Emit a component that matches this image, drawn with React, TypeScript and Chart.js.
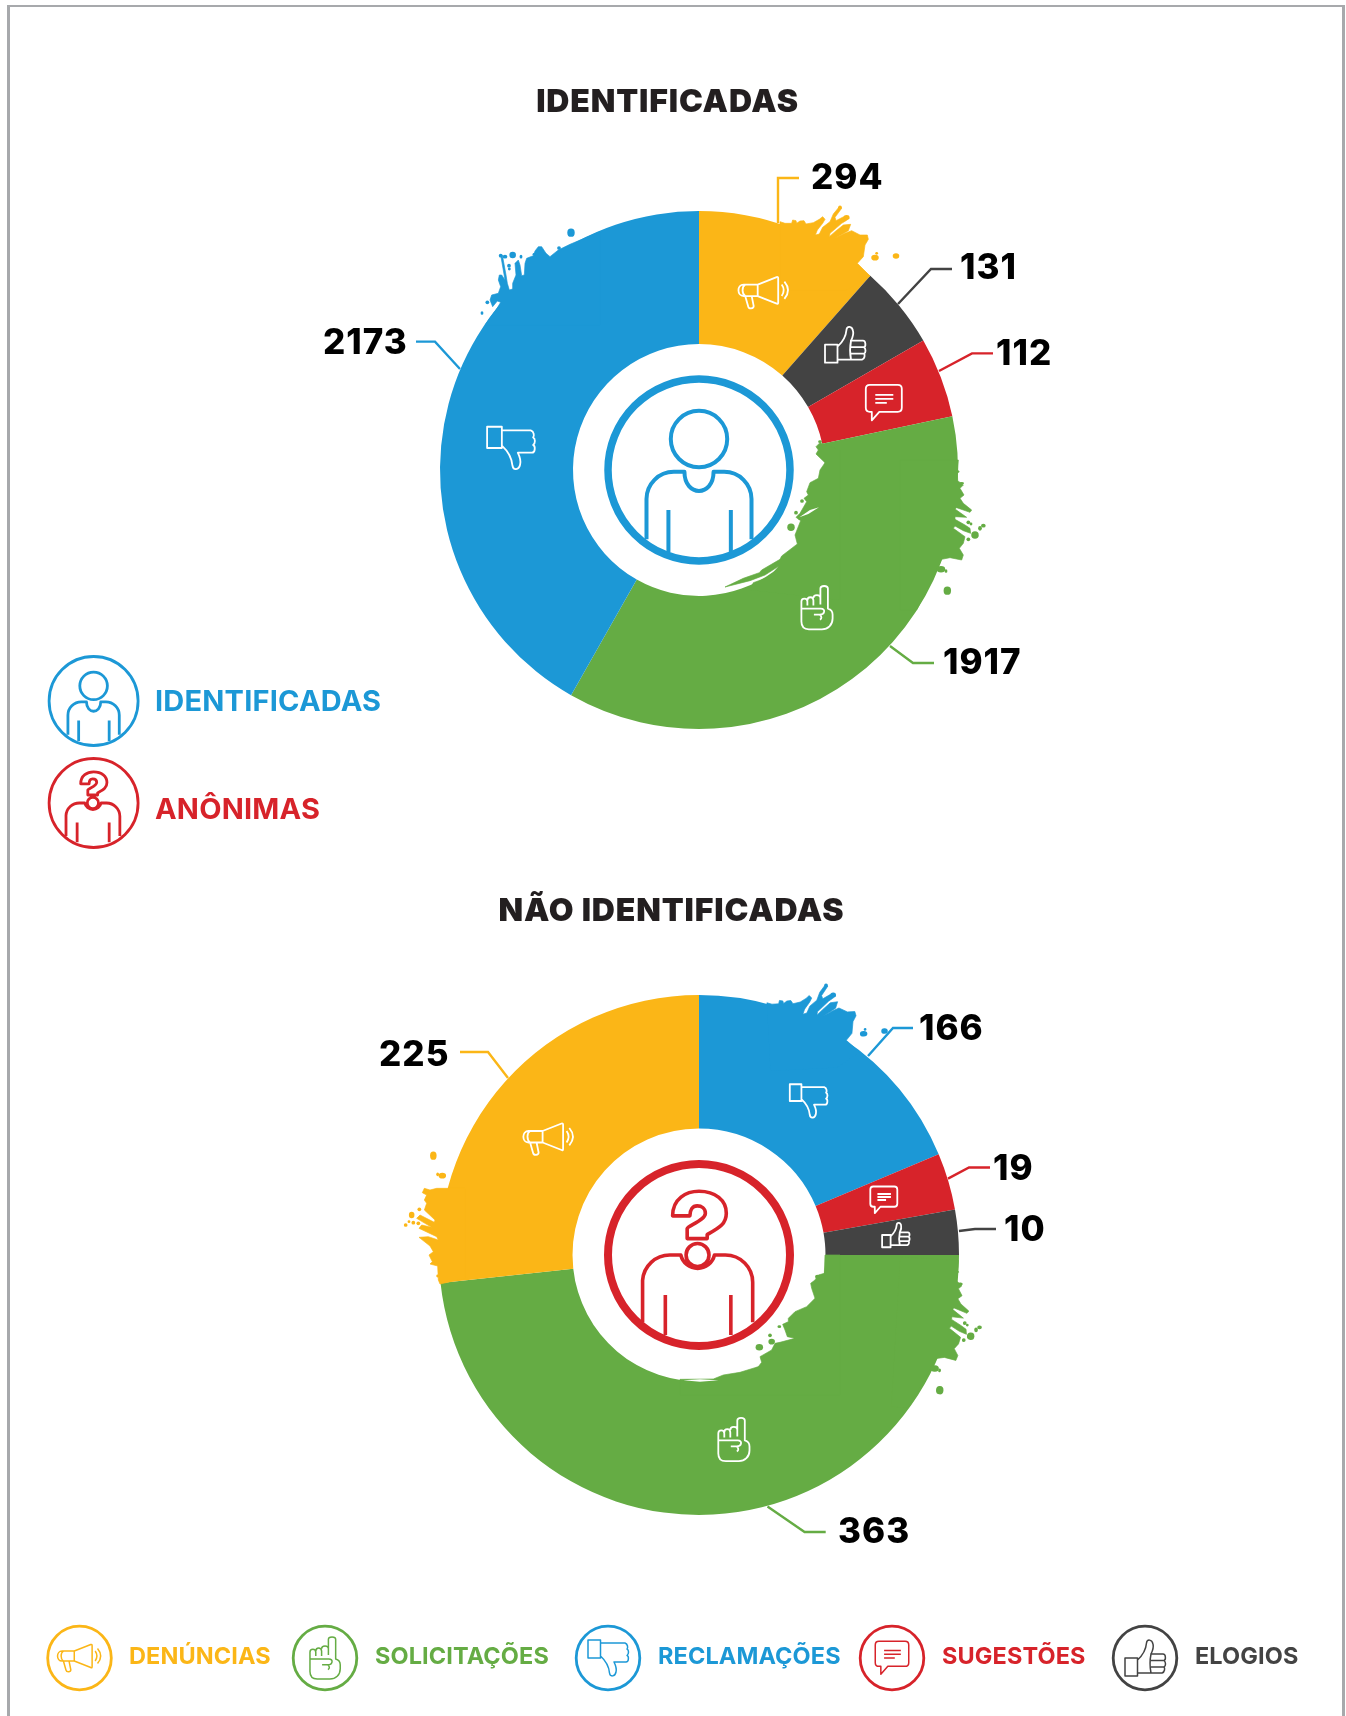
import React, { useEffect, useRef } from "react";
import { Chart, registerables } from "chart.js";

Chart.register(...registerables);

const YELLOW = "#FBB617";
const GREEN = "#65AC44";
const BLUE = "#1C98D6";
const RED = "#D7232A";
const DARK = "#434343";

// ---------- data ----------
const identifiedCategories = ["DENÚNCIAS", "ELOGIOS", "SUGESTÕES", "SOLICITAÇÕES", "RECLAMAÇÕES"];
const identifiedLabels = [294, 131, 112, 1917, 2173];
// The artwork's slices are not proportional to their printed numbers: these are the slice sizes (degrees).
const identifiedSliceDegrees = [41.4, 18.6, 18.0, 131.6, 150.4];
const identifiedColors = [YELLOW, DARK, RED, GREEN, BLUE];

const anonymousCategories = ["RECLAMAÇÕES", "SUGESTÕES", "ELOGIOS", "SOLICITAÇÕES", "DENÚNCIAS"];
const anonymousLabels = [166, 19, 10, 363, 225];
const anonymousSliceDegrees = [67.2, 12.7, 10.1, 173.8, 96.2];
const anonymousColors = [BLUE, RED, DARK, GREEN, YELLOW];

// ---------- icons (paths around 0,0) ----------
const MEGAPHONE =
  "M-6 -8 L13 -15.5 Q14.5 -16 14.5 -14 V10 Q14.5 12 13 11 L-6 3.5 Z M-6 -8 H-20 C-27 -8 -27 3.5 -20 3.5 H-6 M-18.5 -8 C-22 -6 -22 1 -18.5 3.5 M-18.5 3.5 L-15.5 14 C-15 16.5 -10 16.5 -10 13.5 L-12 3.5 M18 -8 Q22 -2.4 18 3.5 M20.7 -11 Q28 -2.4 20.7 6.3";
const THUMB_UP =
  "M-20 0 H-7.5 V18 H-20 Z M-7.5 2 C-2 -3 1 -9 1.5 -15 C2 -19 7 -19 8 -14 C9 -10 7 -6 6 -4 H18 C21 -4 21 2 19 2.5 C21 4 21 8 19 9 C20 10 20 14 17 15 H-7.5 M6 2.5 H19 M6 9 H19 M6 -4 C5 1 5 10 6 15";
const THUMB_DOWN =
  "M-20 0 H-7.5 V-18 H-20 Z M-7.5 -2 C-2 3 1 9 1.5 15 C2 19 7 19 8 14 C9 10 7 6 6 4 H18 C21 4 21 -2 19 -2.5 C21 -4 21 -8 19 -9 C20 -10 20 -14 17 -15 H-7.5";
const BUBBLE =
  "M-14 -18 H14 Q18 -18 18 -14 V5 Q18 9 14 9 H-4.5 L-12 17.5 V9 H-14 Q-18 9 -18 5 V-14 Q-18 -18 -14 -18 Z M-8.5 -8 H9.5 M-8.5 -4 H9.5 M-8.5 0 H3";
const HAND =
  "M3.5 -3 V-19 C3.5 -22.5 11 -22.5 11 -19 V1 C14.5 2 15.7 4 15.7 7 V11 C15.7 17.5 11 21.7 5 21.7 H-8 C-13 21.7 -15.5 18.5 -15.5 14 V-6 C-15.5 -10 -9.5 -10 -9.5 -6 V-2 M-9.5 -7 C-9.5 -11.5 -3.5 -11.5 -3.5 -7 V-2 M-3.5 -9.5 C-3.5 -13.5 3.5 -13.5 3.5 -9.5 M-15.5 1 H4 C9 1 8 7 3 7 H-3 M3 7 C5 9 5 11 3 12";
const PERSON =
  "M-57.7 76 V32 A30 30 0 0 1 -27.7 2 H-16 C-16 30 16 30 16 2 H27.7 A30 30 0 0 1 57.7 32 V76 M-33.6 44 V90 M35 44 V90 M31 -34 A31 31 0 1 1 -31 -34 A31 31 0 1 1 31 -34 Z";
const QUESTION_PERSON =
  "M-62 74 V28 A30 30 0 0 1 -32 0 H-20 A19 19 0 0 0 17 0 H29 A30 30 0 0 1 59 30 V74 M-37 44 V88 M35 44 V88 M11 0 A12.6 12.6 0 1 1 -14.2 0 A12.6 12.6 0 1 1 11 0 Z M-29 -43 C-29 -62 -14 -70 0 -70 C18 -70 30 -60 30 -46 C30 -34 22 -30 9 -22.5 V-18 H-13 V-29 C-13 -32 7 -38 7 -46 C7 -51 3 -54 -2 -54 C-7 -54 -10 -50 -10 -43 Z";

// ---------- decoration: paint splashes, written in 3x-zoom units from a local origin ----------
type Splash = { ox: number; oy: number; rot?: number; color: string; pts: number[]; drops: number[][]; cuts?: number[][] };

const YELLOW_SPLASH_PTS = [0,95,15,100,35,100,38,90,48,92,50,100,60,93,72,92,78,102,100,98,118,88,128,80,135,88,128,100,112,120,106,135,118,132,128,112,150,95,160,72,178,50,185,55,165,82,168,92,195,78,208,85,198,92,185,100,150,130,148,140,165,125,190,105,212,103,205,122,165,145,195,130,215,122,240,135,262,135,265,148,255,165,250,200,232,220,270,258,200,300,0,300];
const YELLOW_SPLASH_DROPS = [[348,198,7,6],[285,203,8,6],[290,190,3,3],[180,52,4,4],[200,82,6,5]];
const GREEN_RIGHT_PTS = [175,0,173,30,178,35,172,40,173,62,190,75,180,85,192,105,180,115,190,130,215,150,210,157,170,143,165,147,200,172,165,170,165,178,195,195,210,205,212,220,190,212,165,198,160,205,195,230,190,250,178,265,190,285,185,300,150,293,125,298,50,450,0,450,0,0];
const GREEN_RIGHT_DROPS = [[225,225,8,8],[240,205,4,5],[205,238,4,4],[250,197,5,4],[205,187,4,4],[213,192,3,3],[123,328,9,7],[138,333,3,4],[142,392,8,9],[185,70,5,3]];

const identifiedSplashes: Splash[] = [
  { ox: 81, oy: -280, color: YELLOW, pts: YELLOW_SPLASH_PTS, drops: YELLOW_SPLASH_DROPS },
  {
    ox: -229, oy: -245, color: BLUE,
    pts: [390,20,300,58,265,75,240,95,228,85,215,65,205,65,195,78,190,92,170,100,165,115,163,150,155,152,150,120,145,105,135,115,138,150,128,175,128,192,118,195,112,175,108,150,97,90,92,90,105,165,95,150,88,150,85,165,92,185,85,205,65,210,60,225,68,245,82,228,92,232,80,252,45,300,390,300],
    drops: [[303,23,8,9],[267,69,4,4],[128,90,7,7],[105,95,5,4],[153,95,3,4],[117,122,4,4],[118,132,3,3],[52,232,4,4],[36,264,3,4],[92,92,4,4],[192,88,3,3]],
  },
  { ox: 201, oy: -10, color: GREEN, pts: GREEN_RIGHT_PTS, drops: GREEN_RIGHT_DROPS },
  {
    ox: 11, oy: -40, color: GREEN,
    pts: [330,38,318,50,325,60,318,72,345,98,330,120,325,145,300,158,290,185,295,195,282,205,290,215,270,250,258,262,272,272,255,315,262,342,215,378,210,388,155,420,148,428,100,445,45,471,120,452,165,435,207,408,180,440,130,458,120,480,390,510,390,60],
    drops: [[243,292,8,8],[258,248,4,4],[276,213,4,4],[330,35,4,3],[272,263,6,5]],
    cuts: [[327,232,300,240,268,262,295,252]],
  },
];

const anonymousSplashes: Splash[] = [
  { ox: 81, oy: -280, rot: -3, color: BLUE, pts: YELLOW_SPLASH_PTS, drops: YELLOW_SPLASH_DROPS },
  {
    ox: -304, oy: -115, color: YELLOW,
    pts: [160,145,125,145,105,150,88,145,82,158,95,165,88,180,95,190,88,210,120,240,118,247,75,225,65,235,110,262,80,255,72,265,125,290,130,300,100,290,72,292,105,318,115,335,102,345,112,365,105,372,128,378,130,420,135,432,210,415,210,145],
    drops: [[115,47,7,9],[142,107,8,6],[128,103,3,4],[50,225,6,7],[73,208,4,4],[55,248,4,4],[42,245,3,3],[32,255,4,4],[70,250,4,4],[128,408,3,3]],
  },
  { ox: 201, oy: -10, rot: 3.4, color: GREEN, pts: GREEN_RIGHT_PTS, drops: GREEN_RIGHT_DROPS },
  {
    ox: -19, oy: 0, color: GREEN,
    pts: [435,0,433,55,415,60,405,75,392,85,395,100,405,130,380,155,345,170,325,190,325,200,308,208,315,225,322,245,345,250,300,262,285,265,275,285,240,305,245,322,235,335,180,352,130,360,100,372,0,373,0,420,480,420,480,0],
    drops: [[238,277,8,7],[275,260,7,6],[270,241,4,4],[298,215,4,3],[412,65,5,4]],
    cuts: [[10,376,60,373,115,376,60,380]],
  },
];

// ---------- annotation layout, offsets from each doughnut's centre ----------
type Leader = { pts: number[]; color: string; textX: number; textY: number };
const identifiedLeaders: Leader[] = [
  { pts: [79,-247,79,-292,100,-292], color: YELLOW, textX: 112, textY: -292 },
  { pts: [199,-166,232,-201,253,-201], color: DARK, textX: 261, textY: -202 },
  { pts: [240,-99,273,-116.6,294,-116.6], color: RED, textX: 297, textY: -116 },
  { pts: [191,176,214,193,235,193], color: GREEN, textX: 244, textY: 193 },
  { pts: [-239,-101,-264,-128.4,-283,-128.4], color: BLUE, textX: -376, textY: -127 },
];
const anonymousLeaders: Leader[] = [
  { pts: [169,-199,194,-227,214,-227], color: BLUE, textX: 220, textY: -225.5 },
  { pts: [249,-76.4,270,-87.5,291,-87.5], color: RED, textX: 294, textY: -85.5 },
  { pts: [260,-24,276,-26,297,-26], color: DARK, textX: 305, textY: -25 },
  { pts: [68.5,251.6,105.6,277,126.7,277], color: GREEN, textX: 139, textY: 277 },
  { pts: [-191,-177,-211,-203,-239,-203], color: YELLOW, textX: -320, textY: -200 },
];

type Icon = { d: string; x: number; y: number; s: number };
const identifiedIcons: Icon[] = [
  { d: MEGAPHONE, x: 64.7, y: -177.4, s: 1 },
  { d: THUMB_UP, x: 146, y: -125.3, s: 1 },
  { d: BUBBLE, x: 184.8, y: -67.2, s: 1 },
  { d: HAND, x: 117.9, y: 137.6, s: 1 },
  { d: THUMB_DOWN, x: -188.3, y: -22, s: 1.18 },
];
const anonymousIcons: Icon[] = [
  { d: THUMB_DOWN, x: 109.4, y: -154, s: 0.93 },
  { d: BUBBLE, x: 184.8, y: -55, s: 0.75 },
  { d: THUMB_UP, x: 196.7, y: -20, s: 0.68 },
  { d: HAND, x: 34.8, y: 184.4, s: 1 },
  { d: MEGAPHONE, x: -150.4, y: -116, s: 1 },
];

function polygon(ctx: CanvasRenderingContext2D, pts: number[]) {
  ctx.beginPath();
  for (let i = 0; i < pts.length; i += 2) {
    if (i === 0) ctx.moveTo(pts[i], pts[i + 1]);
    else ctx.lineTo(pts[i], pts[i + 1]);
  }
  ctx.closePath();
  ctx.fill();
}

function strokeIcon(ctx: CanvasRenderingContext2D, d: string, x: number, y: number, s: number, color: string, lw: number) {
  ctx.save();
  ctx.translate(x, y);
  ctx.scale(s, s);
  ctx.strokeStyle = color;
  ctx.lineWidth = lw / s;
  ctx.lineJoin = "round";
  ctx.lineCap = "butt";
  ctx.stroke(new Path2D(d));
  ctx.restore();
}

type Config = {
  title: string;
  titleX: number;
  titleY: number;
  splashes: Splash[];
  icons: Icon[];
  leaders: Leader[];
  values: number[];
  centerIcon: string;
  centerColor: string;
  centerStroke: number;
  ringStroke: number;
};

function makeOverlay(cfg: Config) {
  return {
    id: "overlay",
    afterDatasetsDraw(chart: any) {
      const ctx: any = chart.ctx;
      const arc = chart.getDatasetMeta(0).data[0];
      const cx: number = arc.x;
      const cy: number = arc.y;

      for (const sp of cfg.splashes) {
        ctx.save();
        ctx.translate(cx, cy);
        if (sp.rot) ctx.rotate((sp.rot * Math.PI) / 180);
        ctx.translate(sp.ox, sp.oy);
        ctx.scale(1 / 3, 1 / 3);
        ctx.fillStyle = sp.color;
        ctx.strokeStyle = sp.color;
        ctx.lineWidth = 2;
        ctx.lineJoin = "round";
        polygon(ctx, sp.pts);
        ctx.stroke();
        for (const [x, y, rx, ry] of sp.drops) {
          ctx.beginPath();
          ctx.ellipse(x, y, rx * 1.4, ry * 1.4, 0, 0, Math.PI * 2);
          ctx.fill();
        }
        ctx.fillStyle = "#fff";
        for (const c of sp.cuts || []) polygon(ctx, c);
        ctx.restore();
      }

      for (const ic of cfg.icons) strokeIcon(ctx, ic.d, cx + ic.x, cy + ic.y, ic.s, "#fff", 1.8);

      ctx.save();
      ctx.beginPath();
      ctx.arc(cx, cy, 91, 0, Math.PI * 2);
      ctx.strokeStyle = cfg.centerColor;
      ctx.lineWidth = cfg.ringStroke;
      ctx.stroke();
      ctx.restore();
      strokeIcon(ctx, cfg.centerIcon, cx, cy, 0.91, cfg.centerColor, cfg.centerStroke);

      ctx.save();
      ctx.fillStyle = "#231F20";
      ctx.font = "900 32px Inter";
      ctx.letterSpacing = "0.85px";
      ctx.textAlign = "center";
      ctx.textBaseline = "middle";
      ctx.fillText(cfg.title, cx + cfg.titleX, cy + cfg.titleY);
      ctx.restore();

      cfg.leaders.forEach((l, i) => {
        ctx.save();
        ctx.strokeStyle = l.color;
        ctx.lineWidth = 2.4;
        ctx.beginPath();
        for (let k = 0; k < l.pts.length; k += 2) {
          const x = cx + l.pts[k];
          const y = cy + l.pts[k + 1];
          if (k === 0) ctx.moveTo(x, y);
          else ctx.lineTo(x, y);
        }
        ctx.stroke();
        ctx.fillStyle = "#000";
        ctx.font = "800 35px Inter";
        ctx.letterSpacing = "1px";
        ctx.textAlign = "left";
        ctx.textBaseline = "middle";
        ctx.fillText(String(cfg.values[i]), cx + l.textX, cy + l.textY);
        ctx.restore();
      });
    },
  };
}

function useDoughnut(
  ref: React.RefObject<HTMLCanvasElement | null>,
  labels: string[],
  slices: number[],
  colors: string[],
  padding: any,
  cfg: Config
) {
  useEffect(() => {
    if (!ref.current) return;
    const chart = new Chart(ref.current, {
      type: "doughnut",
      data: { labels, datasets: [{ data: slices, backgroundColor: colors, borderWidth: 0 }] },
      options: {
        animation: false,
        responsive: false,
        devicePixelRatio: 1,
        cutout: "48.65%",
        layout: { padding },
        plugins: {
          legend: { display: false },
          tooltip: { enabled: false },
          title: { display: false },
        },
      } as any,
      plugins: [makeOverlay(cfg)],
    });
    return () => chart.destroy();
  }, []);
}

const topLegend = [
  { label: "IDENTIFICADAS", color: BLUE, d: PERSON, cy: 701, textX: 155, textY: 700 },
  { label: "ANÔNIMAS", color: RED, d: QUESTION_PERSON, cy: 803, textX: 155, textY: 808 },
];

const bottomLegend = [
  { label: "DENÚNCIAS", color: YELLOW, d: MEGAPHONE, s: 0.87, cx: 79.5, textX: 129 },
  { label: "SOLICITAÇÕES", color: GREEN, d: HAND, s: 0.97, cx: 325, textX: 375 },
  { label: "RECLAMAÇÕES", color: BLUE, d: THUMB_DOWN, s: 1, cx: 608, textX: 658 },
  { label: "SUGESTÕES", color: RED, d: BUBBLE, s: 0.93, cx: 892, textX: 942 },
  { label: "ELOGIOS", color: DARK, d: THUMB_UP, s: 1, cx: 1145, textX: 1195 },
];

function LegendText({ x, y, color, size, spacing, children }: any) {
  return (
    <span
      style={{
        position: "absolute",
        left: x,
        top: y,
        transform: "translateY(-50%)",
        color,
        fontFamily: "Inter",
        fontWeight: 700,
        fontSize: size,
        letterSpacing: spacing,
        lineHeight: 1,
        whiteSpace: "nowrap",
      }}
    >
      {children}
    </span>
  );
}

export default function App() {
  const topRef = useRef<HTMLCanvasElement>(null);
  const bottomRef = useRef<HTMLCanvasElement>(null);

  useDoughnut(
    topRef, identifiedCategories, identifiedSliceDegrees, identifiedColors,
    { left: 52, right: 0, top: 211, bottom: 131 },
    { title: "IDENTIFICADAS", titleX: -31.5, titleY: -367.3, splashes: identifiedSplashes, icons: identifiedIcons, leaders: identifiedLeaders, values: identifiedLabels, centerIcon: PERSON, centerColor: BLUE, centerStroke: 4, ringStroke: 7.5 }
  );
  useDoughnut(
    bottomRef, anonymousCategories, anonymousSliceDegrees, anonymousColors,
    { left: 52, right: 0, top: 135, bottom: 201 },
    { title: "NÃO IDENTIFICADAS", titleX: -27.5, titleY: -344, splashes: anonymousSplashes, icons: anonymousIcons, leaders: anonymousLeaders, values: anonymousLabels, centerIcon: QUESTION_PERSON, centerColor: RED, centerStroke: 3.6, ringStroke: 8 }
  );

  return (
    <div style={{ position: "absolute", left: 0, top: 0, width: 1346, height: 1716, overflow: "hidden", background: "#fff" }}>
      <div
        style={{
          position: "absolute", left: 7, top: 5, width: 1332, height: 1720,
          borderLeft: "3px solid #A7A9AC", borderRight: "3px solid #A7A9AC", borderTop: "2.5px solid #A7A9AC",
        }}
      />
      <canvas ref={topRef} width={1346} height={860} style={{ position: "absolute", left: 0, top: 0, width: 1346, height: 860 }} />
      <canvas ref={bottomRef} width={1346} height={856} style={{ position: "absolute", left: 0, top: 860, width: 1346, height: 856 }} />
      <svg width={1346} height={1716} style={{ position: "absolute", left: 0, top: 0, pointerEvents: "none" }}>
        {topLegend.map((l) => (
          <g key={l.label} fill="none" stroke={l.color}>
            <circle cx={93.6} cy={l.cy} r={44.5} strokeWidth={2.8} />
            <g transform={`translate(93.6 ${l.cy}) scale(0.445)`}>
              <path d={l.d} strokeWidth={2.8 / 0.445} strokeLinejoin="round" />
            </g>
          </g>
        ))}
        {bottomLegend.map((l) => (
          <g key={l.label} fill="none" stroke={l.color}>
            <circle cx={l.cx} cy={1658} r={31.8} strokeWidth={2.8} />
            <g transform={`translate(${l.cx} 1658) scale(${l.s})`}>
              <path d={l.d} strokeWidth={1.5 / l.s} strokeLinejoin="round" />
            </g>
          </g>
        ))}
      </svg>
      {topLegend.map((l) => (
        <LegendText key={l.label} x={l.textX} y={l.textY} color={l.color} size={29} spacing="0.2px">{l.label}</LegendText>
      ))}
      {bottomLegend.map((l) => (
        <LegendText key={l.label} x={l.textX} y={1656} color={l.color} size={23.5} spacing="0.1px">{l.label}</LegendText>
      ))}
    </div>
  );
}
